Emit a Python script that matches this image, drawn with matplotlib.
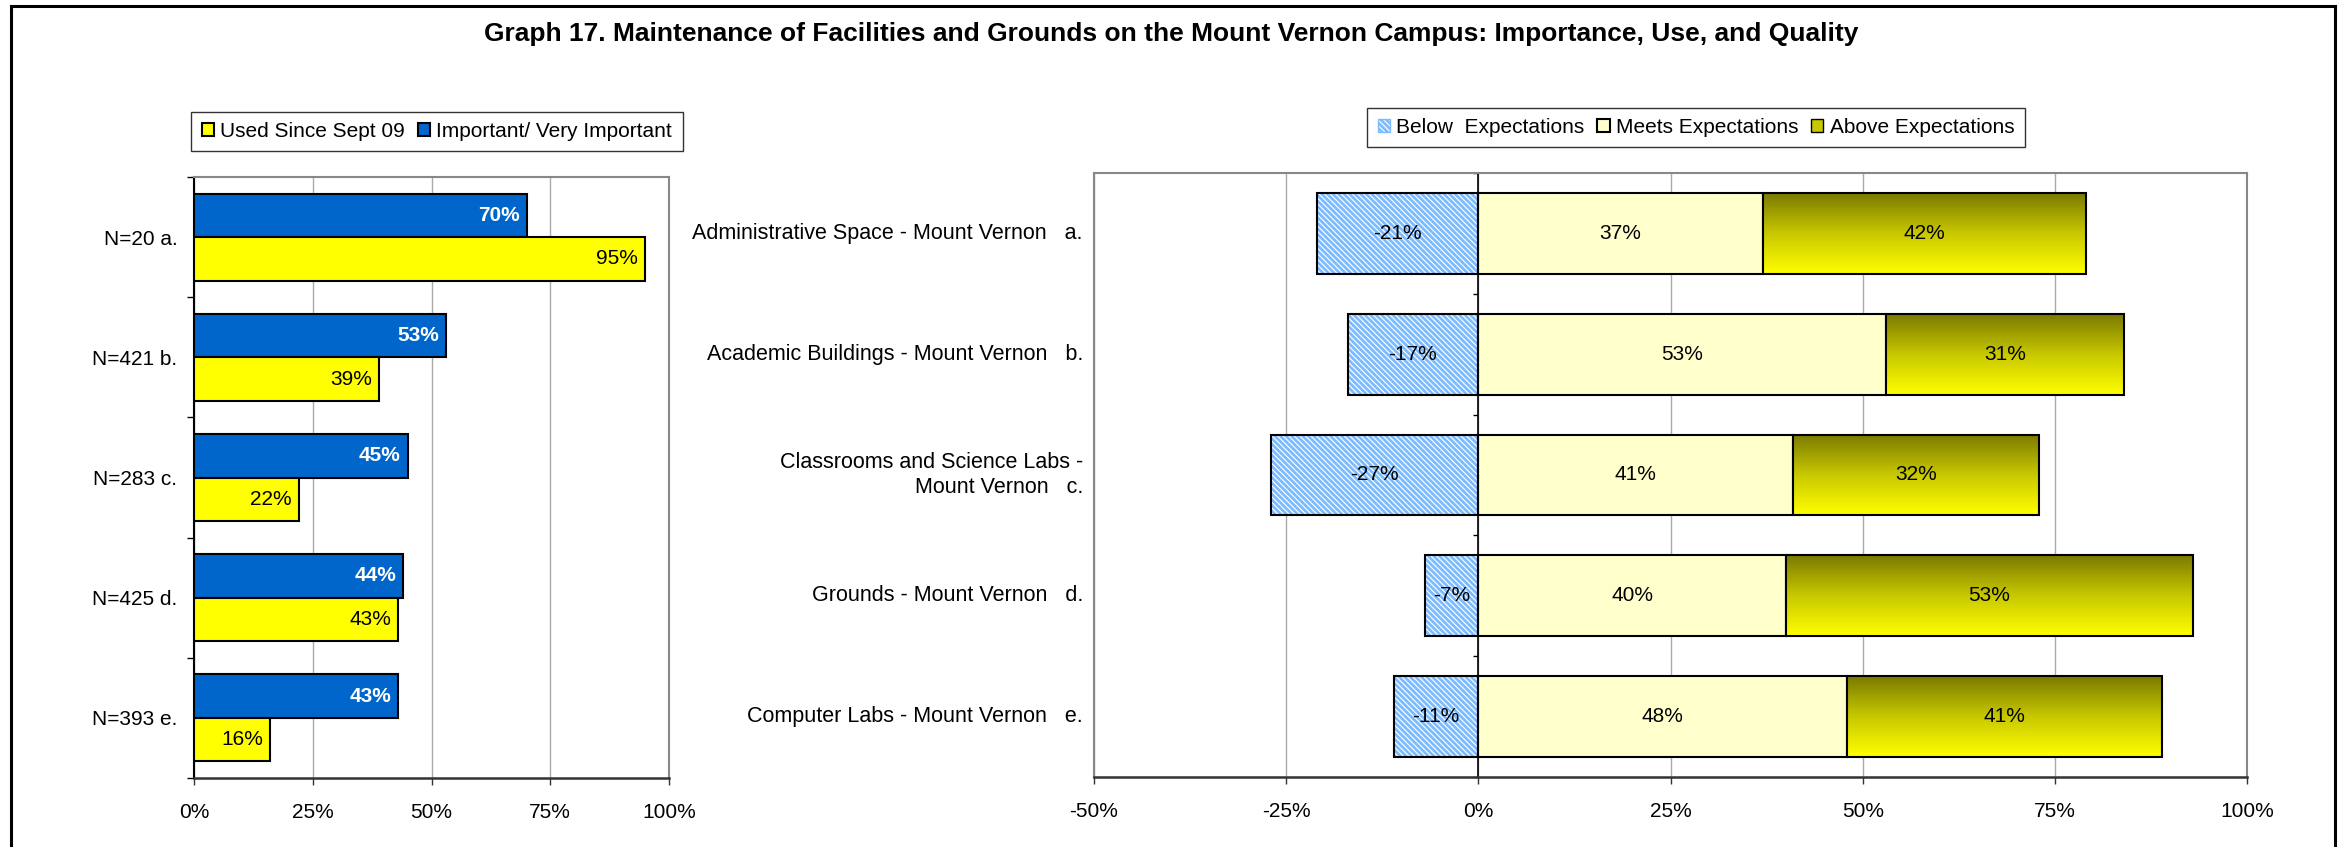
import numpy as np
import matplotlib
matplotlib.use("Agg")
import matplotlib.pyplot as plt
from matplotlib.colors import LinearSegmentedColormap
from matplotlib.lines import Line2D
from matplotlib.patches import Patch

plt.rcParams['font.family'] = ['Liberation Sans', 'DejaVu Sans']
plt.rcParams['font.size'] = 15
plt.rcParams['hatch.linewidth'] = 2.0

# ---- data ----
left_labels = ["N=20 a.", "N=421 b.", "N=283 c.", "N=425 d.", "N=393 e."]
important = [70, 53, 45, 44, 43]
used = [95, 39, 22, 43, 16]

right_labels = ["Administrative Space - Mount Vernon   a.",
                "Academic Buildings - Mount Vernon   b.",
                "Classrooms and Science Labs -\nMount Vernon   c.",
                "Grounds - Mount Vernon   d.",
                "Computer Labs - Mount Vernon   e."]
below = [-21, -17, -27, -7, -11]
meets = [37, 53, 41, 40, 48]
above = [42, 31, 32, 53, 41]

title = ("Graph 17. Maintenance of Facilities and Grounds on the Mount Vernon "
         "Campus: Importance, Use, and Quality")

BLUE = "#0066CC"
YELLOW = "#FFFF00"
LIGHTBLUE = "#7DBBFF"
CREAM = "#FFFFCC"
GRID = "#AAAAAA"
FRAME = "#888888"
HATCH = "\\" * 6

W, H = 2342, 847
fig = plt.figure(figsize=(W / 100, H / 100), dpi=100)

fig.text(0.5, 1 - 41 / H, title, ha="center", va="baseline",
         fontsize=19, fontweight="bold")

# outer frame lines
for xs, ys in [([11 / W, 2335 / W], [1 - 6 / H, 1 - 6 / H]),
               ([11 / W, 11 / W], [0, 1 - 6 / H]),
               ([2335 / W, 2335 / W], [0, 1 - 6 / H])]:
    fig.add_artist(Line2D(xs, ys, transform=fig.transFigure, color="black", lw=2.2))


def style_frame(ax):
    ax.spines["top"].set_color(FRAME)
    ax.spines["right"].set_color(FRAME)
    ax.spines["top"].set_linewidth(1.5)
    ax.spines["right"].set_linewidth(1.5)
    ax.spines["bottom"].set_color("#333333")
    ax.spines["bottom"].set_linewidth(1.8)
    ax.xaxis.grid(True, color=GRID, lw=1)
    ax.set_axisbelow(True)
    ax.tick_params(axis="x", length=5, width=1, pad=13, color="#333333")
    ax.xaxis.set_major_formatter(matplotlib.ticker.FuncFormatter(lambda v, p: f"{v:.0f}%"))


# ---------------- left chart ----------------
axL = fig.add_axes([194 / W, 69 / H, 475 / W, 601 / H])
y = np.arange(len(left_labels))
h = 0.362
b1 = axL.barh(y - h / 2, important, height=h, color=BLUE, edgecolor="black", lw=1.5, zorder=3)
b2 = axL.barh(y + h / 2, used, height=h, color=YELLOW, edgecolor="black", lw=1.5, zorder=3)
for yy, v in zip(y - h / 2, important):
    axL.annotate(f"{v}%", xy=(v, yy), xytext=(-5, 0), textcoords="offset points",
                 ha="right", va="center", color="white", fontweight="bold", zorder=4)
for yy, v in zip(y + h / 2, used):
    axL.annotate(f"{v}%", xy=(v, yy), xytext=(-5, 0), textcoords="offset points",
                 ha="right", va="center", color="black", zorder=4)
axL.set_xlim(0, 100)
axL.set_ylim(len(left_labels) - 0.5, -0.5)
axL.set_xticks([0, 25, 50, 75, 100])
axL.set_yticks(y, left_labels)
axL.set_yticks(np.arange(len(left_labels) + 1) - 0.5, minor=True)
axL.tick_params(axis="y", which="major", length=0, pad=12)
axL.tick_params(axis="y", which="minor", length=5, width=1)
style_frame(axL)
axL.spines["left"].set_color("black")
axL.spines["left"].set_linewidth(1.5)

axL.legend([b2, b1], ["Used Since Sept 09", "Important/ Very Important"],
           loc="center", bbox_to_anchor=(437 / W, 1 - 131.5 / H), ncol=2,
           frameon=True, fancybox=False, edgecolor="black", handlelength=0.6,
           handleheight=0.6, handletextpad=0.3, columnspacing=0.6,
           borderpad=0.5, bbox_transform=fig.transFigure)

# ---------------- right chart ----------------
axR = fig.add_axes([1094 / W, 70 / H, 1153 / W, 604 / H])
yr = np.arange(len(right_labels))
hr = 0.67
axR.barh(yr, below, height=hr, facecolor="white", edgecolor=LIGHTBLUE, lw=0,
         hatch=HATCH, zorder=3)
axR.barh(yr, below, height=hr, fill=False, edgecolor="black", lw=1.5, zorder=4)
bm = axR.barh(yr, meets, height=hr, color=CREAM, edgecolor="black", lw=1.5, zorder=3)
ba = axR.barh(yr, above, left=meets, height=hr, color="none", edgecolor="black",
              lw=1.5, zorder=4)

cmap = LinearSegmentedColormap.from_list("olive", ["#7A7A00", "#C8C800", "#FFFF00"])
grad = np.linspace(0, 1, 256).reshape(-1, 1)
for p in ba.patches:
    im = axR.imshow(grad, cmap=cmap, aspect="auto", origin="upper", zorder=3,
                    extent=(p.get_x(), p.get_x() + p.get_width(),
                            p.get_y() + p.get_height(), p.get_y()))
    im.set_clip_path(p)

for i in range(len(right_labels)):
    axR.text(below[i] / 2, yr[i], f"{below[i]}%", ha="center", va="center", zorder=5)
    axR.text(meets[i] / 2, yr[i], f"{meets[i]}%", ha="center", va="center", zorder=5)
    axR.text(meets[i] + above[i] / 2, yr[i], f"{above[i]}%", ha="center", va="center", zorder=5)
    axR.annotate(right_labels[i], xy=(0, yr[i]), xycoords=("axes fraction", "data"),
                 xytext=(-8, 0), textcoords="offset points", ha="right", va="center",
                 fontsize=15.5)

axR.set_xlim(-50, 100)
axR.set_ylim(len(right_labels) - 0.5, -0.5)
axR.set_xticks([-50, -25, 0, 25, 50, 75, 100])
axR.set_yticks([])
axR.set_yticks(np.arange(len(right_labels) + 1) - 0.5, minor=True)
axR.yaxis.set_minor_formatter(matplotlib.ticker.NullFormatter())
axR.tick_params(axis="y", which="minor", length=3.5, width=1)
style_frame(axR)
axR.spines["left"].set_position(("data", 0))
axR.spines["left"].set_color("black")
axR.spines["left"].set_linewidth(1.2)
axR.spines["left"].set_zorder(2.5)
axR.plot([0, 0], [0, 1], transform=axR.transAxes, color=FRAME, lw=1.5, clip_on=False)

legend_above = Patch(facecolor="#C8C800", edgecolor="black")
legend_below = Patch(facecolor="white", edgecolor=LIGHTBLUE, hatch=HATCH)
axR.legend([legend_below, bm, legend_above],
           ["Below  Expectations", "Meets Expectations", "Above Expectations"],
           loc="center", bbox_to_anchor=(1696 / W, 1 - 127.5 / H), ncol=3,
           frameon=True, fancybox=False, edgecolor="black", handlelength=0.6,
           handleheight=0.6, handletextpad=0.3, columnspacing=0.6,
           borderpad=0.5, bbox_transform=fig.transFigure)

fig.savefig("out.png", dpi=100)
